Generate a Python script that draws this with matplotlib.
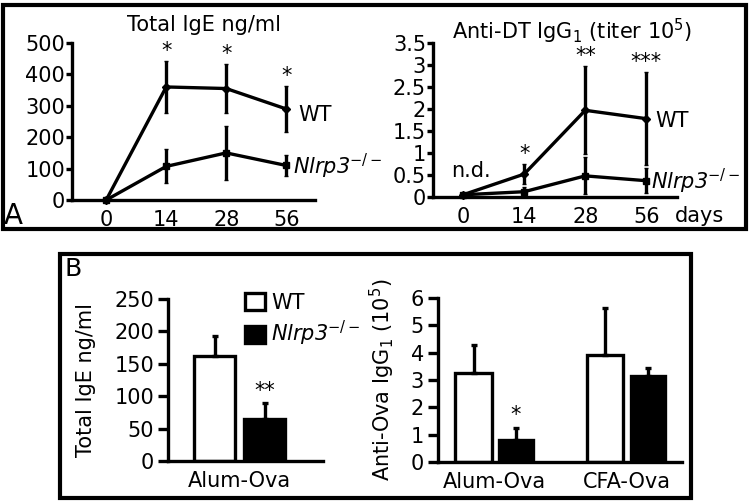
import matplotlib
matplotlib.use('Agg')
import matplotlib.pyplot as plt
from matplotlib.patches import Rectangle

# --- Panel A: time course (days) ---
days = ['0', '14', '28', '56']
ige_wt = [0, 360, 355, 290]
ige_wt_err = [0, 82, 78, 72]
ige_ko = [0, 107, 150, 110]
ige_ko_err = [0, 54, 85, 32]
ige_stars = ['', '*', '*', '*']

dt_wt = [0.05, 0.52, 1.97, 1.78]
dt_wt_err = [0, 0.22, 1.0, 1.05]
dt_ko = [0.05, 0.12, 0.48, 0.37]
dt_ko_err = [0, 0.1, 0.42, 0.28]
dt_stars = ['', '*', '**', '***']

# --- Panel B: bars ---
b_ige_groups = ['Alum-Ova']
b_ige_wt = [162]
b_ige_wt_err = [31]
b_ige_ko = [65]
b_ige_ko_err = [24]
b_ige_stars = ['**']

b_ova_groups = ['Alum-Ova', 'CFA-Ova']
b_ova_wt = [3.27, 3.9]
b_ova_wt_err = [1.02, 1.73]
b_ova_ko = [0.8, 3.15]
b_ova_ko_err = [0.46, 0.28]
b_ova_stars = ['*', '']

KO = r'Nlrp3$^{-/-}$'
W, H = 750, 504
FS = 15
LW = 2.4

plt.rcParams['font.family'] = 'DejaVu Sans'
plt.rcParams['font.size'] = FS


def ax_px(fig, x0, y0, x1, y1):
    # axes box from image pixel corners (top-left origin)
    return fig.add_axes([x0 / W, 1 - y1 / H, (x1 - x0) / W, (y1 - y0) / H])


def ftext(fig, x, y, s, **kw):
    fig.text(x / W, 1 - y / H, s, ha=kw.pop('ha', 'center'), va=kw.pop('va', 'center'), **kw)


def style_axes(ax, ticklen, pad):
    for s in ['top', 'right']:
        ax.spines[s].set_visible(False)
    for s in ['left', 'bottom']:
        ax.spines[s].set_linewidth(LW)
    ax.tick_params(axis='y', direction='out', length=ticklen, width=LW, pad=pad, labelsize=FS)
    ax.tick_params(axis='x', length=0, labelsize=FS)


def time_course(ax, wt, wt_err, ko, ko_err, stars, ylim, yticks, yticklabels):
    x = range(len(days))
    ax.errorbar(x, wt, yerr=wt_err, color='black', lw=LW, elinewidth=LW, capsize=1.5,
                marker='D', ms=4, clip_on=False)
    ax.errorbar(x, ko, yerr=ko_err, color='black', lw=LW, elinewidth=LW, capsize=1.5,
                marker='s', ms=5, clip_on=False)
    for i, s in enumerate(stars):
        if s:
            ax.annotate(s, (i, wt[i] + wt_err[i]), xytext=(0, 0), textcoords='offset pixels',
                        ha='center', va='bottom', fontsize=FS)
    ax.set_ylim(*ylim)
    ax.set_yticks(yticks)
    ax.set_yticklabels(yticklabels)
    ax.set_xticks(list(x))
    ax.set_xticklabels(days)
    style_axes(ax, 4, 1)
    ax.tick_params(axis='x', pad=7)


fig = plt.figure(figsize=(W / 100, H / 100), dpi=100)

# frames
fig.patches.append(Rectangle((3 / W, 1 - 229 / H), 743 / W, 224 / H, transform=fig.transFigure,
                             fill=False, lw=3, ec='black'))
fig.patches.append(Rectangle((60 / W, 1 - 498 / H), 631 / W, 244 / H, transform=fig.transFigure,
                             fill=False, lw=3, ec='black'))

# A left
ax1 = ax_px(fig, 72, 43, 315, 200)
time_course(ax1, ige_wt, ige_wt_err, ige_ko, ige_ko_err, ige_stars,
            (0, 500), range(0, 501, 100), [str(v) for v in range(0, 501, 100)])
ax1.set_xlim(-0.57, 3.48)
ax1.annotate('WT', (3, ige_wt[3]), xytext=(12, -6), textcoords='offset pixels', va='center')
ax1.annotate(KO, (3, ige_ko[3]), xytext=(7, -1), textcoords='offset pixels', va='center',
             fontstyle='italic')
ftext(fig, 204, 31, 'Total IgE ng/ml', va='baseline')

# A right
ax2 = ax_px(fig, 433, 43, 677, 197)
dt_ticks = [0, 0.5, 1, 1.5, 2, 2.5, 3, 3.5]
time_course(ax2, dt_wt, dt_wt_err, dt_ko, dt_ko_err, dt_stars,
            (0, 3.5), dt_ticks, ['0', '0.5', '1', '1.5', '2', '2.5', '3', '3.5'])
ax2.set_xlim(-0.49, 3.5)
ax2.annotate('n.d.', (0, dt_wt[0]), xytext=(8, 24), textcoords='offset pixels', ha='center', va='center')
ax2.annotate('WT', (3, dt_wt[3]), xytext=(9, -2), textcoords='offset pixels', va='center')
ax2.annotate(KO, (3, dt_ko[3]), xytext=(5, -1), textcoords='offset pixels', va='center',
             fontstyle='italic')
ftext(fig, 572, 39, r'Anti-DT IgG$_1$ (titer 10$^5$)', va='baseline')
ftext(fig, 700, 216, 'days')

ftext(fig, 13, 216, 'A', fontsize=20)
ftext(fig, 73, 269, 'B', fontsize=18)

# B left
ax3 = ax_px(fig, 168, 299, 323, 461)
bw = 0.82
b1 = ax3.bar([0], b_ige_wt, bw, color='white', edgecolor='black', lw=LW, label='WT')
b2 = ax3.bar([1], b_ige_ko, bw, color='black', edgecolor='black', lw=LW, label=KO)
ax3.errorbar([0], b_ige_wt, yerr=[[0], b_ige_wt_err], fmt='none', ecolor='black', elinewidth=LW,
             capsize=2, capthick=LW)
ax3.errorbar([1], b_ige_ko, yerr=[[0], b_ige_ko_err], fmt='none', ecolor='black', elinewidth=LW,
             capsize=2, capthick=LW)
ax3.annotate(b_ige_stars[0], (1, b_ige_ko[0] + b_ige_ko_err[0]), xytext=(0, 2),
             textcoords='offset pixels', ha='center', va='bottom')
ax3.set_xlim(-0.93, 2.17)
ax3.set_ylim(0, 250)
ax3.set_yticks(range(0, 251, 50))
ax3.set_xticks([0.5])
ax3.set_xticklabels(b_ige_groups)
style_axes(ax3, 7, 3)
ax3.tick_params(axis='x', pad=7)
ax3.set_ylabel('Total IgE ng/ml', labelpad=13)
leg = ax3.legend(handles=[b1, b2], loc='upper left', bbox_to_anchor=(245 / W, 1 - 293 / H),
                 bbox_transform=fig.transFigure, frameon=False, borderpad=0, borderaxespad=0,
                 handlelength=0.95, handleheight=0.85, handletextpad=0.3, labelspacing=0.3,
                 fontsize=FS)
leg.get_texts()[1].set_fontstyle('italic')

# B right
ax4 = ax_px(fig, 438, 298, 682, 462)
gx = [0, 3.1]
wx = [g for g in gx]
kx = [g + 1 for g in gx]
ax4.bar(wx, b_ova_wt, 0.85, color='white', edgecolor='black', lw=LW)
ax4.bar(kx, b_ova_ko, 0.8, color='black', edgecolor='black', lw=LW)
ax4.errorbar(wx, b_ova_wt, yerr=[[0, 0], b_ova_wt_err], fmt='none', ecolor='black',
             elinewidth=LW, capsize=2, capthick=LW)
ax4.errorbar(kx, b_ova_ko, yerr=[[0, 0], b_ova_ko_err], fmt='none', ecolor='black',
             elinewidth=LW, capsize=2, capthick=LW)
for i, s in enumerate(b_ova_stars):
    if s:
        ax4.annotate(s, (kx[i], b_ova_ko[i] + b_ova_ko_err[i]), xytext=(0, 3),
                     textcoords='offset pixels', ha='center', va='bottom')
ax4.set_xlim(-0.835, 4.9)
ax4.set_ylim(0, 6)
ax4.set_yticks(range(0, 7))
ax4.set_xticks([g + 0.5 for g in gx])
ax4.set_xticklabels(b_ova_groups)
style_axes(ax4, 7, 3)
ax4.tick_params(axis='x', pad=7)
ax4.set_ylabel(r'Anti-Ova IgG$_1$ (10$^5$)', labelpad=10)

fig.savefig('out.png', dpi=100)
